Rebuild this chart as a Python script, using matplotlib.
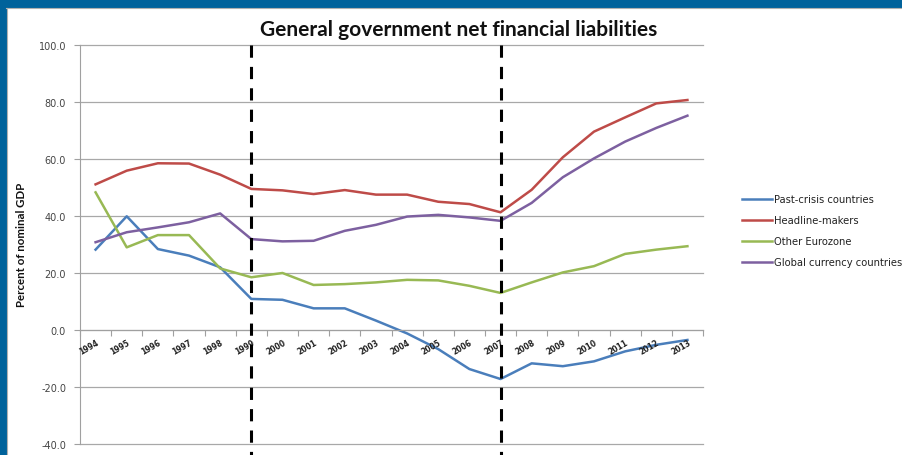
import numpy as np
import matplotlib.pyplot as plt
from matplotlib.patches import Rectangle

# data
years = [str(y) for y in range(1994, 2014)]
past_crisis = [28.2, 39.9, 28.4, 26.1, 22.0, 10.9, 10.6, 7.6, 7.6, 3.3, -1.2, -6.7, -13.7, -17.2,
               -11.7, -12.7, -11.0, -7.5, -5.2, -3.5]
headline = [51.1, 55.9, 58.5, 58.4, 54.5, 49.5, 49.0, 47.7, 49.1, 47.5, 47.5, 45.0, 44.2, 41.3,
            49.2, 60.6, 69.6, 74.6, 79.5, 80.7]
other_ez = [48.3, 29.0, 33.3, 33.3, 21.6, 18.5, 20.0, 15.8, 16.1, 16.7, 17.6, 17.4, 15.5, 13.0,
            16.7, 20.2, 22.4, 26.7, 28.2, 29.4]
global_cur = [30.8, 34.3, 36.0, 37.8, 40.9, 31.9, 31.1, 31.3, 34.8, 36.9, 39.8, 40.4, 39.5, 38.3,
              44.6, 53.6, 60.2, 66.1, 70.9, 75.2]
break_years = ["1999", "2007"]

W, H = 902, 456
fig = plt.figure(figsize=(W / 100, H / 100), dpi=100)
fig.patch.set_facecolor("white")

# blue frame (top and left) like the slide
fig.add_artist(Rectangle((0, 1 - 8 / H), 1, 8 / H, transform=fig.transFigure, color="#00629B", zorder=0))
fig.add_artist(Rectangle((0, 0), 6 / W, 1, transform=fig.transFigure, color="#00629B", zorder=0))
fig.add_artist(plt.Line2D([6 / W, 1], [1 - 9 / H, 1 - 9 / H], transform=fig.transFigure, color="#b0b0b0", lw=0.8))
fig.add_artist(plt.Line2D([7 / W, 7 / W], [0, 1 - 9 / H], transform=fig.transFigure, color="#b0b0b0", lw=0.8))

ax = fig.add_axes([80 / W, 1 - 445 / H, (703 - 80) / W, (445 - 46) / H])
x = np.arange(len(years))

ax.plot(x, past_crisis, color="#4A7EBB", lw=1.8, label="Past-crisis countries")
ax.plot(x, headline, color="#BE4B48", lw=1.8, label="Headline-makers")
ax.plot(x, other_ez, color="#98B954", lw=1.8, label="Other Eurozone")
ax.plot(x, global_cur, color="#7D60A0", lw=1.8, label="Global currency countries")

for b in break_years:
    xi = years.index(b)
    ax.plot([xi, xi], [100, -44], color="black", lw=2.2, ls=(0, (4, 3)), clip_on=False, zorder=5)

ax.set_xlim(-0.5, len(years) - 0.5)
ax.set_ylim(-40, 100)
yt = np.arange(-40, 101, 20)
ax.set_yticks(yt)
ax.set_yticklabels(["%.1f" % v for v in yt], fontsize=7, color="#444444")
for v in yt:
    ax.axhline(v, color="#a8a8a8", lw=0.9, clip_on=False, zorder=0)
ax.tick_params(axis="y", length=4, color="#a0a0a0", pad=6)

for s in ["top", "right"]:
    ax.spines[s].set_visible(False)
ax.spines["left"].set_color("#a0a0a0")
ax.spines["bottom"].set_position(("data", 0))
ax.spines["bottom"].set_color("#a0a0a0")

# category ticks between years, labels at year centres
ax.set_xticks(np.arange(-0.5, len(years), 1.0))
ax.set_xticklabels([])
ax.tick_params(axis="x", length=4, color="#a0a0a0", direction="out")
for i, yr in enumerate(years):
    ax.text(i + 0.15, -2.5, yr, rotation=30, fontsize=5.5, ha="right", va="top", color="#222222",
            fontweight="bold")

fig.text(22 / W, 1 - 245 / H, "Percent of nominal GDP", rotation=90, ha="center", va="center",
         fontsize=8.3, fontweight="bold", family="Lato", color="#111111")

fig.text(459 / W, 1 - 30 / H, "General government net financial liabilities", ha="center", va="center",
         fontsize=15, fontweight="bold", family="Lato", color="#111111")

leg = fig.legend(loc="upper left", bbox_to_anchor=(733 / W, 1 - 186 / H), frameon=False, fontsize=7.2,
                 handlelength=3.0, handletextpad=0.2, labelspacing=1.1)
for t in leg.get_texts():
    t.set_color("#222222")

fig.savefig("out.png", dpi=100)
